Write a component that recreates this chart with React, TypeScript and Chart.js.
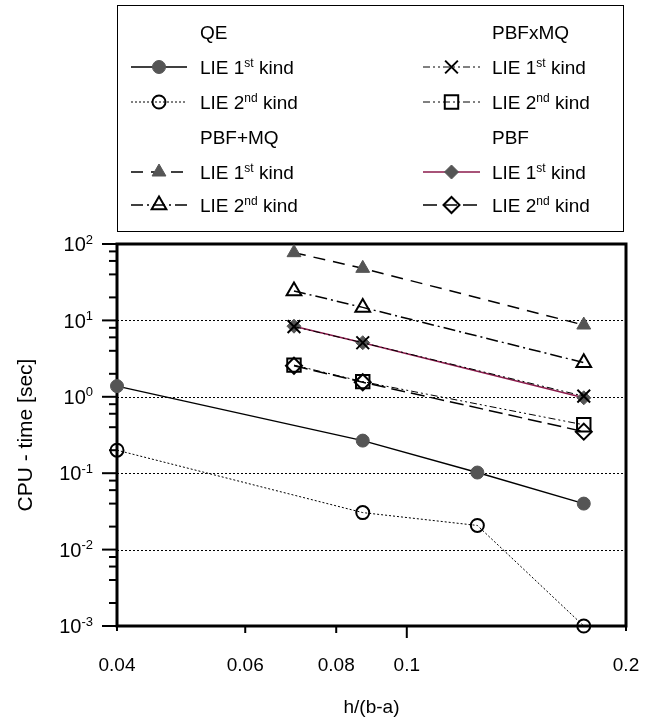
import React, { useEffect, useRef } from 'react';
import { Chart, registerables } from 'chart.js';
import { drawPoint } from 'chart.js/helpers';

Chart.register(...registerables);

// ---------- data ----------
const xQE = [0.04, 0.087, 0.125, 0.175];
const qeFirst = [1.38, 0.267, 0.102, 0.04];
const qeSecond = [0.2, 0.0305, 0.0207, 0.001];

const xPBF = [0.07, 0.087, 0.175];
const pbfPlusMqFirst = [77, 48, 8.7];
const pbfPlusMqSecond = [24.3, 14.8, 2.8];
const pbfxMqFirst = [8.3, 5.1, 1.02];
const pbfxMqSecond = [2.6, 1.58, 0.43];
const pbfFirst = [8.4, 5.1, 0.97];
const pbfSecond = [2.55, 1.55, 0.35];

const xTickValues = [0.04, 0.06, 0.08, 0.1, 0.2];
const xTickLabels = ['0.04', '0.06', '0.08', '0.1', '0.2'];
const yDecadeExponents = [2, 1, 0, -1, -2, -3];
const yGridValues = [10, 1, 0.1, 0.01];
const yMinorMultipliers = [2, 4, 6, 8];

const groupHeaders = ['QE', 'PBF+MQ', 'PBFxMQ', 'PBF'];
const kindLabels = [
  ['LIE 1', 'st', ' kind'],
  ['LIE 2', 'nd', ' kind'],
];

// ---------- styles ----------
const FONT = "'Liberation Sans', Arial, sans-serif";
const GRAY = '#555555';
const MAROON = '#8B1A4B';

const styles = [
  { line: '#000', lw: 1.5, dash: [], ps: 'circle', r: 6.5, fill: GRAY, pc: GRAY, pbw: 1 },
  { line: '#000', lw: 1, dash: [2, 2], ps: 'circle', r: 6.5, fill: 'rgba(0,0,0,0)', pc: '#000', pbw: 2 },
  { line: '#000', lw: 1.5, dash: [12, 8], ps: 'triangle', r: 8, fill: GRAY, pc: GRAY, pbw: 1 },
  { line: '#000', lw: 1.5, dash: [12, 4, 2, 4], ps: 'triangle', r: 8.5, fill: 'rgba(0,0,0,0)', pc: '#000', pbw: 2 },
  { line: '#000', lw: 1, dash: [7, 3, 2, 3, 2, 3], ps: 'crossRot', r: 9, fill: '#000', pc: '#000', pbw: 2 },
  { line: '#000', lw: 1, dash: [7, 3, 2, 3, 2, 3], ps: 'rect', r: 9.5, fill: 'rgba(0,0,0,0)', pc: '#000', pbw: 2 },
  { line: MAROON, lw: 1.5, dash: [], ps: 'rectRot', r: 7, fill: GRAY, pc: GRAY, pbw: 1 },
  { line: '#000', lw: 1.5, dash: [14, 6], ps: 'rectRot', r: 8, fill: 'rgba(0,0,0,0)', pc: '#000', pbw: 2 },
];

const seriesX = [xQE, xQE, xPBF, xPBF, xPBF, xPBF, xPBF, xPBF];
const seriesY = [qeFirst, qeSecond, pbfPlusMqFirst, pbfPlusMqSecond, pbfxMqFirst, pbfxMqSecond, pbfFirst, pbfSecond];
const seriesKind = [0, 1, 0, 1, 0, 1, 0, 1];
const seriesNames = ['QE 1st', 'QE 2nd', 'PBF+MQ 1st', 'PBF+MQ 2nd', 'PBFxMQ 1st', 'PBFxMQ 2nd', 'PBF 1st', 'PBF 2nd'];

// legend layout
const legendColumns = [
  { sampleL: 131, sampleR: 187, textX: 200, rows: [{ h: 0 }, { s: 0 }, { s: 1 }, { h: 1 }, { s: 2 }, { s: 3 }] },
  { sampleL: 423, sampleR: 480, textX: 492, rows: [{ h: 2 }, { s: 4 }, { s: 5 }, { h: 3 }, { s: 6 }, { s: 7 }] },
];
const legendRowY = [32, 67, 102, 137, 172, 205];
const legendBox = { left: 117.5, top: 5.5, right: 623.5, bottom: 231.5 };

function drawRich(ctx: CanvasRenderingContext2D, x: number, yMid: number, base: string, sup: string, rest: string, size: number, supSize: number) {
  ctx.fillStyle = '#000';
  ctx.textAlign = 'left';
  ctx.textBaseline = 'alphabetic';
  const baseline = yMid + size * 0.36;
  ctx.font = `${size}px ${FONT}`;
  ctx.fillText(base, x, baseline);
  let cx = x + ctx.measureText(base).width;
  ctx.font = `${supSize}px ${FONT}`;
  ctx.fillText(sup, cx, baseline - size * 0.38);
  cx += ctx.measureText(sup).width;
  ctx.font = `${size}px ${FONT}`;
  ctx.fillText(rest, cx, baseline);
}

function drawMarker(ctx: CanvasRenderingContext2D, st: any, x: number, y: number) {
  ctx.save();
  ctx.setLineDash([]);
  ctx.fillStyle = st.fill;
  ctx.strokeStyle = st.pc;
  ctx.lineWidth = st.pbw;
  drawPoint(ctx, { pointStyle: st.ps, radius: st.r, rotation: 0, borderWidth: st.pbw } as any, x, y);
  ctx.restore();
}

const decor = {
  id: 'decor',
  beforeDatasetsDraw(chart: any) {
    const { ctx, chartArea: a, scales } = chart;
    const y = scales.y;
    const x = scales.x;
    ctx.save();
    // dotted grid lines
    ctx.strokeStyle = '#000';
    ctx.lineWidth = 1;
    ctx.setLineDash([2, 2]);
    for (const v of yGridValues) {
      const py = Math.round(y.getPixelForValue(v)) + 0.5;
      ctx.beginPath();
      ctx.moveTo(a.left, py);
      ctx.lineTo(a.right, py);
      ctx.stroke();
    }
    ctx.setLineDash([]);
    // y ticks
    ctx.lineWidth = 2;
    for (const e of yDecadeExponents) {
      const py = y.getPixelForValue(Math.pow(10, e));
      ctx.beginPath();
      ctx.moveTo(a.left - 15, py);
      ctx.lineTo(a.left, py);
      ctx.stroke();
      if (e < 2) {
        for (const m of yMinorMultipliers) {
          const pm = y.getPixelForValue(m * Math.pow(10, e));
          ctx.beginPath();
          ctx.moveTo(a.left - 8, pm);
          ctx.lineTo(a.left, pm);
          ctx.stroke();
        }
      }
    }
    // x ticks
    xTickValues.forEach((v) => {
      const px = x.getPixelForValue(v);
      const len = v === 0.1 ? 12 : v === 0.04 || v === 0.2 ? 5 : 7;
      ctx.beginPath();
      ctx.moveTo(px, a.bottom);
      ctx.lineTo(px, a.bottom + len);
      ctx.stroke();
    });
    // frame
    ctx.lineWidth = 3;
    ctx.strokeRect(a.left, a.top, a.right - a.left, a.bottom - a.top);
    // y labels
    for (const e of yDecadeExponents) {
      const py = y.getPixelForValue(Math.pow(10, e));
      const exp = String(e);
      ctx.font = `13px ${FONT}`;
      const ew = ctx.measureText(exp).width;
      ctx.font = `20px ${FONT}`;
      const bw = ctx.measureText('10').width;
      const right = a.left - 24;
      drawRich(ctx, right - ew - bw, py, '10', exp, '', 20, 13);
    }
    ctx.restore();
  },
  afterDraw(chart: any) {
    const { ctx } = chart;
    ctx.save();
    ctx.strokeStyle = '#000';
    ctx.lineWidth = 1;
    ctx.setLineDash([]);
    ctx.strokeRect(legendBox.left, legendBox.top, legendBox.right - legendBox.left, legendBox.bottom - legendBox.top);
    for (const col of legendColumns) {
      col.rows.forEach((row: any, i: number) => {
        const ry = legendRowY[i];
        if (row.h !== undefined) {
          ctx.font = `19px ${FONT}`;
          ctx.fillStyle = '#000';
          ctx.textAlign = 'left';
          ctx.textBaseline = 'alphabetic';
          ctx.fillText(groupHeaders[row.h], col.textX, ry + 19 * 0.36);
        } else {
          const st = styles[row.s];
          ctx.save();
          ctx.strokeStyle = st.line;
          ctx.lineWidth = st.lw;
          ctx.setLineDash(st.dash);
          ctx.beginPath();
          ctx.moveTo(col.sampleL, ry);
          ctx.lineTo(col.sampleR, ry);
          ctx.stroke();
          ctx.restore();
          drawMarker(ctx, st, (col.sampleL + col.sampleR) / 2, ry);
          const k = kindLabels[seriesKind[row.s]];
          drawRich(ctx, col.textX, ry, k[0], k[1], k[2], 19, 12);
        }
      });
    }
    ctx.restore();
  },
};

export default function App() {
  const ref = useRef<HTMLCanvasElement>(null);
  useEffect(() => {
    if (!ref.current) return;
    const datasets = seriesY.map((ys, i) => {
      const st = styles[i];
      return {
        label: seriesNames[i],
        data: seriesX[i].map((x, j) => ({ x, y: ys[j] })),
        borderColor: st.line,
        borderWidth: st.lw,
        borderDash: st.dash,
        pointStyle: st.ps,
        pointRadius: st.r,
        pointBorderWidth: st.pbw,
        pointBackgroundColor: st.fill,
        pointBorderColor: st.pc,
        fill: false,
        tension: 0,
        clip: false,
      };
    });
    const chart = new Chart(ref.current, {
      type: 'line',
      data: { datasets: datasets as any },
      plugins: [decor as any],
      options: {
        animation: false,
        responsive: false,
        devicePixelRatio: 1,
        layout: { padding: { top: 244, right: 28, left: 0, bottom: 0 } },
        plugins: { legend: { display: false }, tooltip: { enabled: false } },
        scales: {
          x: {
            type: 'logarithmic',
            min: 0.04,
            max: 0.2,
            afterBuildTicks: (s: any) => {
              s.ticks = xTickValues.map((v) => ({ value: v }));
            },
            afterFit: (s: any) => {
              s.height = 93;
              s.paddingLeft = 0;
              s.paddingRight = 0;
            },
            grid: { display: false, drawTicks: false },
            border: { display: false },
            ticks: {
              autoSkip: false,
              maxRotation: 0,
              padding: 28,
              color: '#000',
              font: { family: FONT, size: 19 },
              callback: (v: any) => {
                const i = xTickValues.indexOf(Number(v));
                return i >= 0 ? xTickLabels[i] : '';
              },
            },
            title: {
              display: true,
              text: 'h/(b-a)',
              color: '#000',
              font: { family: FONT, size: 19 },
              padding: { top: 0, bottom: 0 },
            },
          },
          y: {
            type: 'logarithmic',
            min: 0.001,
            max: 100,
            afterFit: (s: any) => {
              s.width = 117;
              s.paddingTop = 0;
              s.paddingBottom = 0;
            },
            grid: { display: false, drawTicks: false },
            border: { display: false },
            ticks: { display: false },
            title: {
              display: true,
              text: 'CPU - time [sec]',
              color: '#000',
              font: { family: FONT, size: 21 },
              padding: { top: 14, bottom: 0 },
            },
          },
        },
      } as any,
    });
    return () => chart.destroy();
  }, []);
  return (
    <div style={{ position: 'absolute', left: 0, top: 0, width: 654, height: 719, background: '#fff' }}>
      <canvas ref={ref} width={654} height={719} />
    </div>
  );
}
